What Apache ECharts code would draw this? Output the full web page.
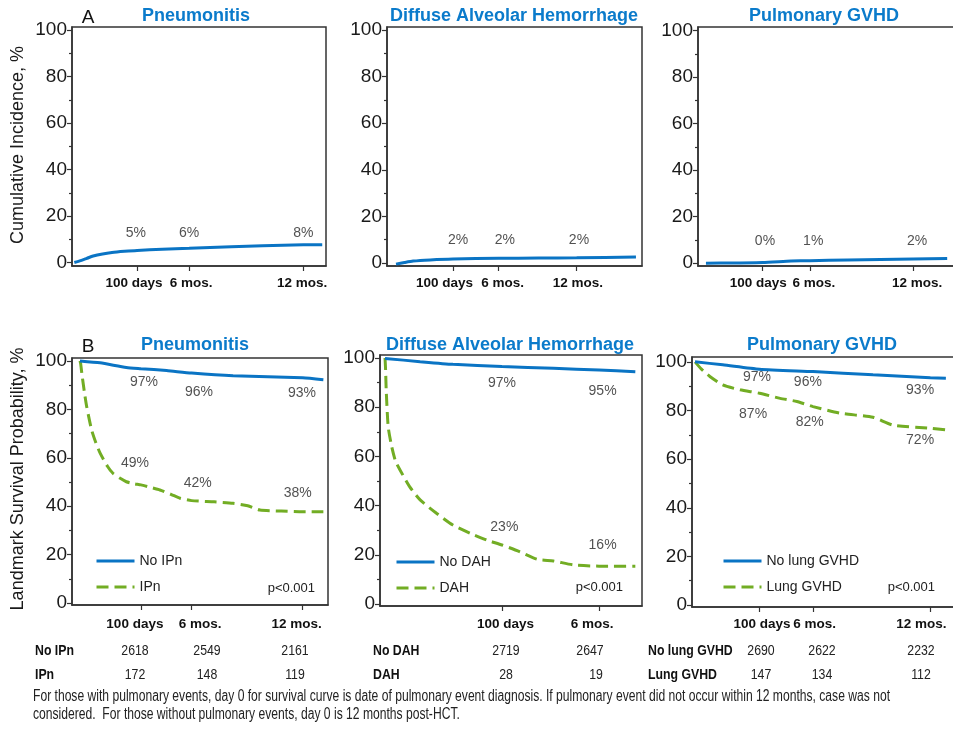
<!DOCTYPE html>
<html><head><meta charset="utf-8">
<script src="https://cdn.jsdelivr.net/npm/echarts@6/dist/echarts.min.js"></script>
<style>html,body{margin:0;padding:0;background:#fff}#c{width:953px;height:729px}</style>
</head><body><div id="c"></div>
<script>
// ================= DATA =================
const panelTitles = ['Pneumonitis', 'Diffuse Alveolar Hemorrhage', 'Pulmonary GVHD'];
const xTickLabels3 = ['100 days', '6 mos.', '12 mos.'];
const xTickLabels2 = ['100 days', '6 mos.'];
const yTickValues = [0, 20, 40, 60, 80, 100];
const yMinorTickValues = [10, 30, 50, 70, 90];

// A: cumulative incidence (days after HCT, %)
const ciPneumDays = [0, 10, 20, 30, 45, 60, 80, 100, 140, 183, 250, 300, 365, 395];
const ciPneumPct  = [0, 0.8, 1.8, 2.8, 3.7, 4.3, 4.8, 5.2, 5.7, 6.1, 6.8, 7.2, 7.6, 7.7];
const ciDahDays = [0, 15, 30, 60, 100, 180, 250, 317, 421];
const ciDahPct  = [-0.5, 0.2, 0.8, 1.3, 1.7, 2.0, 2.1, 2.2, 2.6];
const ciGvhdDays = [0, 50, 100, 150, 183, 250, 365, 425];
const ciGvhdPct  = [0, 0.1, 0.3, 0.9, 1.1, 1.4, 1.8, 2.0];
const ciPneumNotes = ['5%', '6%', '8%'];
const ciDahNotes = ['2%', '2%', '2%'];
const ciGvhdNotes = ['0%', '1%', '2%'];

// B: landmark survival (days after landmark, %)
const osNoIpnDays = [0, 33, 76, 100, 142, 183, 251, 365, 399];
const osNoIpnPct  = [100, 99.2, 97.3, 96.8, 96.0, 95.0, 93.9, 93.0, 92.2];
const osIpnDays = [0, 1, 3, 7, 11, 19, 26, 33, 45, 54, 66, 76, 88, 100, 115, 131, 150, 164, 183, 220, 251, 275, 295, 330, 365, 399];
const osIpnPct  = [100, 99, 94.9, 87.5, 81.1, 71.5, 66.2, 61.9, 56.5, 53.6, 51.5, 50.1, 49.3, 48.8, 47.8, 46.7, 44.8, 43.3, 42.3, 41.8, 41.2, 40.2, 38.4, 38.0, 37.7, 37.7];
const osNoDahDays = [0, 30, 58, 100, 144, 183, 214];
const osNoDahPct  = [99.8, 98.5, 97.4, 96.5, 95.8, 95.1, 94.4];
const osDahDays = [0, 0.5, 1, 2.7, 5.7, 9, 12.8, 21, 30, 44, 58, 73, 87, 100, 115, 130, 144, 161, 183, 214];
const osDahPct  = [100, 95, 87, 72, 64, 58, 54.5, 47.7, 42.3, 36.9, 32.1, 28.7, 26, 24, 21.3, 18.2, 17.5, 15.9, 15.4, 15.4];
const osNoGvhdDays = [0, 43, 100, 183, 276, 365, 389];
const osNoGvhdPct  = [100, 98.8, 97.0, 96.0, 94.7, 93.5, 93.3];
const osGvhdDays = [0, 10, 23, 43, 70, 100, 132, 158, 183, 225, 276, 307, 365, 389];
const osGvhdPct  = [100, 97, 94, 90.5, 88.5, 87.1, 85, 83.7, 81.6, 78.9, 77.2, 74, 72.7, 72];
const osPneumNotesNo = ['97%', '96%', '93%'];
const osPneumNotesYes = ['49%', '42%', '38%'];
const osDahNotesNo = ['97%', '95%'];
const osDahNotesYes = ['23%', '16%'];
const osGvhdNotesNo = ['97%', '96%', '93%'];
const osGvhdNotesYes = ['87%', '82%', '72%'];
const pValueText = 'p<0.001';

// numbers at risk
const riskRowNames = [['No IPn', 'IPn'], ['No DAH', 'DAH'], ['No lung GVHD', 'Lung GVHD']];
const riskNoIPn = [2618, 2549, 2161];
const riskIPn = [172, 148, 119];
const riskNoDAH = [2719, 2647];
const riskDAH = [28, 19];
const riskNoGVHD = [2690, 2622, 2232];
const riskGVHD = [147, 134, 112];

const footnote1 = 'For those with pulmonary events, day 0 for survival curve is date of pulmonary event diagnosis. If pulmonary event did not occur within 12 months, case was not';
const footnote2 = 'considered.  For those without pulmonary events, day 0 is 12 months post-HCT.';

// ================= LAYOUT / STYLE =================
const BLUE = '#0a74c4';
const TITLE_BLUE = '#0b7bcb';
const GREEN = '#72ad24';
const SANS = "'Liberation Sans', Arial, sans-serif";

const grids = [
  {left: 72, top: 27, width: 254, height: 239},
  {left: 387, top: 27, width: 255, height: 239},
  {left: 698, top: 27, width: 256, height: 239},
  {left: 72, top: 358, width: 256, height: 247},
  {left: 380, top: 355, width: 262, height: 251},
  {left: 692, top: 357, width: 262, height: 250}
];
const xRanges = [[-3.7, 401], [-15.8, 431.6], [-14, 437], [-13.1, 406.6], [-4.3, 219.7], [-4.7, 401.6]];
const yRanges = [[-1.5, 101.4], [-1.3, 101.3], [-1.2, 101.6], [-0.8, 101.2], [-0.8, 101.2], [-0.8, 102]];
const xTickPos = [[100, 183, 365], [100, 180, 317], [100, 183, 365], [100, 183, 365], [100, 183], [100, 183, 365]];
const xLabelPos = [[95, 186, 363], [85, 187, 319], [92, 190, 372], [90, 197, 355], [103, 177], [104, 185.5, 351]];
const xLabelMargin = [10, 10, 10, 12, 11, 10];
const xTickText = [xTickLabels3, xTickLabels3, xTickLabels3, xTickLabels3, xTickLabels2, xTickLabels3];

// annotation anchor positions [day, y] (layout only)
const notePos = {
  ciPneum: [[98, 12.6], [183, 12.6], [365, 12.6]],
  ciDah: [[109, 9.9], [191, 9.9], [321, 9.9]],
  ciGvhd: [[104, 9.4], [189, 9.4], [372, 9.4]],
  osPneumNo: [[105, 91.3], [195, 87.2], [364, 86.8]],
  osPneumYes: [[90, 57.9], [193, 49.6], [357, 45.5]],
  osDahNo: [[100, 89.8], [186, 86.6]],
  osDahYes: [[102, 31.3], [186, 24]],
  osGvhdNo: [[96, 93.8], [175, 91.8], [349, 88.5]],
  osGvhdYes: [[90, 78.6], [178, 75.3], [349, 67.9]]
};

// ================= BUILD =================
const xAxes = [], yAxes = [], series = [];
grids.forEach((g, i) => {
  const tpos = xTickPos[i], lpos = xLabelPos[i], lab = xTickText[i];
  xAxes.push({
    type: 'value', gridIndex: i, min: xRanges[i][0], max: xRanges[i][1], position: 'bottom',
    axisLine: {show: true, onZero: false, lineStyle: {color: '#333', width: 1.5}},
    axisTick: {show: true, customValues: tpos, length: 5, lineStyle: {color: '#333', width: 1.2}},
    axisLabel: {show: true, customValues: lpos, formatter: v => lab[lpos.indexOf(v)] || '',
      hideOverlap: false, showMinLabel: true, showMaxLabel: true,
      fontFamily: SANS, fontWeight: 'bold', fontSize: 13.5, color: '#111', margin: xLabelMargin[i]},
    splitLine: {show: false}
  });
  yAxes.push({
    type: 'value', gridIndex: i, min: yRanges[i][0], max: yRanges[i][1], position: 'left',
    axisLine: {show: true, onZero: false, lineStyle: {color: '#333', width: 1.5}},
    axisTick: {show: true, customValues: yTickValues, length: 5, lineStyle: {color: '#333', width: 1.2}},
    axisLabel: {show: true, customValues: yTickValues, showMinLabel: true, showMaxLabel: true,
      fontFamily: SANS, fontSize: 19, color: '#1a1a1a', margin: 5},
    splitLine: {show: false}
  });
  yAxes.push({
    type: 'value', gridIndex: i, min: yRanges[i][0], max: yRanges[i][1], position: 'left', offset: 0,
    axisLine: {show: false, onZero: false},
    axisTick: {show: true, customValues: yMinorTickValues, length: 3, lineStyle: {color: '#333', width: 1.2}},
    axisLabel: {show: false},
    splitLine: {show: false}
  });
});

function curve(name, gi, days, pct, color, dashed) {
  series.push({
    type: 'line', name: name, xAxisIndex: gi, yAxisIndex: gi * 2,
    data: days.map((d, k) => [d, pct[k]]),
    symbol: 'none', showSymbol: false, color: color, smooth: 0.2,
    lineStyle: {color: color, width: 3, type: dashed ? [12, 6] : 'solid', cap: 'butt'},
    silent: true, z: dashed ? 3 : 4
  });
}
function notes(gi, texts, positions) {
  series.push({
    type: 'scatter', xAxisIndex: gi, yAxisIndex: gi * 2, symbolSize: 0, silent: true,
    data: texts.map((t, k) => [positions[k][0], positions[k][1], t]),
    label: {show: true, position: 'inside', formatter: p => p.data[2],
      fontFamily: SANS, fontSize: 14, color: '#262626'},
    z: 6
  });
}

curve('ci-pneum', 0, ciPneumDays, ciPneumPct, BLUE, false);
curve('ci-dah', 1, ciDahDays, ciDahPct, BLUE, false);
curve('ci-gvhd', 2, ciGvhdDays, ciGvhdPct, BLUE, false);
notes(0, ciPneumNotes, notePos.ciPneum);
notes(1, ciDahNotes, notePos.ciDah);
notes(2, ciGvhdNotes, notePos.ciGvhd);

curve('No IPn', 3, osNoIpnDays, osNoIpnPct, BLUE, false);
curve('IPn', 3, osIpnDays, osIpnPct, GREEN, true);
curve('No DAH', 4, osNoDahDays, osNoDahPct, BLUE, false);
curve('DAH', 4, osDahDays, osDahPct, GREEN, true);
curve('No lung GVHD', 5, osNoGvhdDays, osNoGvhdPct, BLUE, false);
curve('Lung GVHD', 5, osGvhdDays, osGvhdPct, GREEN, true);
notes(3, osPneumNotesNo, notePos.osPneumNo);
notes(3, osPneumNotesYes, notePos.osPneumYes);
notes(4, osDahNotesNo, notePos.osDahNo);
notes(4, osDahNotesYes, notePos.osDahYes);
notes(5, osGvhdNotesNo, notePos.osGvhdNo);
notes(5, osGvhdNotesYes, notePos.osGvhdYes);

function legendAt(names, left, top) {
  return {
    data: names, left: left, top: top, orient: 'vertical', itemWidth: 38, itemHeight: 14, itemGap: 12,
    selectedMode: false, padding: 0,
    itemStyle: {opacity: 0},
    lineStyle: {width: 3},
    textStyle: {fontFamily: SANS, fontSize: 14, color: '#222'}
  };
}
const legends = [
  legendAt(riskRowNames[0], 95, 554),
  legendAt(riskRowNames[1], 395, 555),
  legendAt(riskRowNames[2], 722, 554)
];

// ----- graphics (titles, panel letters, axis titles, p values, risk table, footnote) -----
const g = [];
function txt(x, y, text, o) {
  o = o || {};
  g.push({
    type: 'text', x: x, y: y, rotation: o.rotation || 0, scaleX: o.scaleX || 1, silent: true, z: 10,
    style: {
      text: text, fill: o.color || '#111',
      fontFamily: o.family || SANS, fontSize: o.size || 14, fontWeight: o.weight || 'normal',
      align: o.align || 'left', textAlign: o.align || 'left',
      verticalAlign: 'middle', textVerticalAlign: 'middle'
    }
  });
}
const titleCenters = [[196, 16], [514, 16], [824, 16], [195, 345], [510, 345], [822, 345]];
titleCenters.forEach((c, i) => txt(c[0], c[1], panelTitles[i % 3], {align: 'center', size: 18, weight: 'bold', color: TITLE_BLUE}));
txt(88, 18, 'A', {align: 'center', size: 19});
txt(88, 347, 'B', {align: 'center', size: 19});
txt(18, 145, 'Cumulative Incidence, %', {align: 'center', size: 18, rotation: Math.PI / 2, color: '#1a1a1a'});
txt(18, 479, 'Landmark Survival Probability, %', {align: 'center', size: 18, rotation: Math.PI / 2, color: '#1a1a1a'});
[[315, 588], [623, 587], [935, 587]].forEach(p => txt(p[0], p[1], pValueText, {align: 'right', size: 13, color: '#222'}));

const TS = 0.82;
const rowY = [651, 675];
const labelX = [35, 373, 648];
for (let p = 0; p < 3; p++) {
  txt(labelX[p], rowY[0], riskRowNames[p][0], {weight: 'bold', size: 15, scaleX: TS});
  txt(labelX[p], rowY[1], riskRowNames[p][1], {weight: 'bold', size: 15, scaleX: TS});
}
const colsA = [135, 207, 295], colsB1 = [506, 590], colsB2 = [506, 596], colsC = [761, 822, 921];
const numOpt = {align: 'center', size: 15, scaleX: TS, color: '#222'};
riskNoIPn.forEach((v, k) => txt(colsA[k], rowY[0], String(v), numOpt));
riskIPn.forEach((v, k) => txt(colsA[k], rowY[1], String(v), numOpt));
riskNoDAH.forEach((v, k) => txt(colsB1[k], rowY[0], String(v), numOpt));
riskDAH.forEach((v, k) => txt(colsB2[k], rowY[1], String(v), numOpt));
riskNoGVHD.forEach((v, k) => txt(colsC[k], rowY[0], String(v), numOpt));
riskGVHD.forEach((v, k) => txt(colsC[k], rowY[1], String(v), numOpt));

// fit footnote width
const cv = document.createElement('canvas').getContext('2d');
cv.font = '16px ' + SANS;
const fnScale = 857 / cv.measureText(footnote1).width;
txt(33, 697, footnote1, {size: 16, scaleX: fnScale, color: '#222'});
txt(33, 715, footnote2, {size: 16, scaleX: fnScale, color: '#222'});

const chart = echarts.init(document.getElementById('c'));
chart.setOption({
  animation: false,
  backgroundColor: '#ffffff',
  grid: grids.map(gr => Object.assign({show: true, borderColor: '#333', borderWidth: 1.5, backgroundColor: 'transparent',
    containLabel: false, outerBoundsMode: 'none'}, gr)),
  xAxis: xAxes,
  yAxis: yAxes,
  legend: legends,
  series: series,
  graphic: {elements: g}
});
</script></body></html>
